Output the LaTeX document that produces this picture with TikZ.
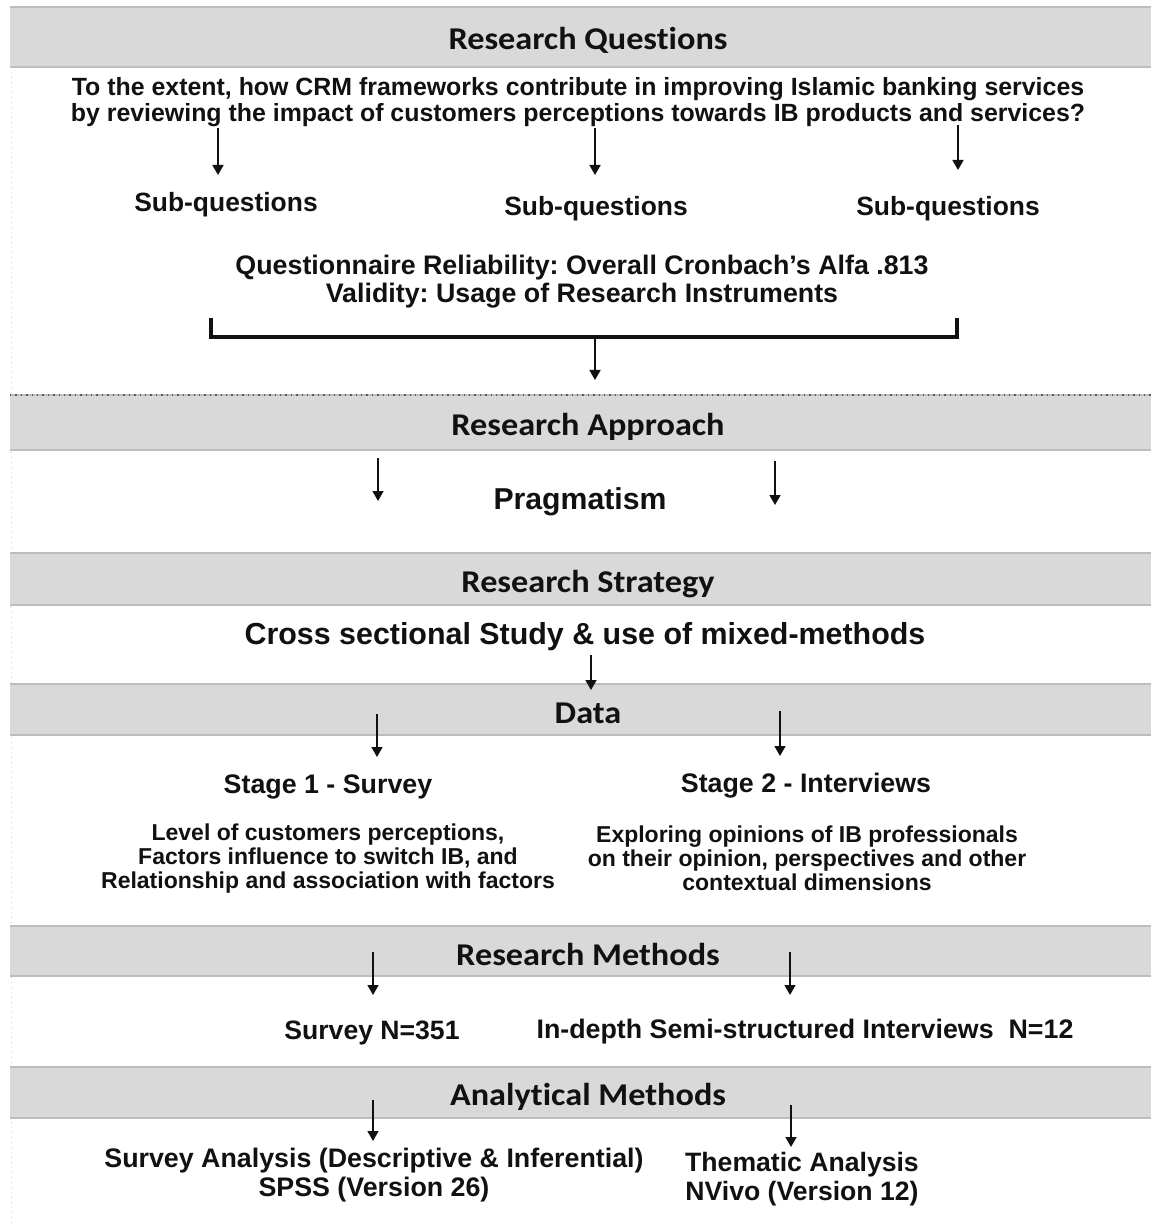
\documentclass[tikz,border=0pt]{standalone}
\usepackage{fontspec}
\setmainfont{Liberation Sans}
\newfontfamily\hdfont[FakeStretch=1.08, Ligatures=NoCommon]{Carlito}
\usetikzlibrary{arrows.meta}
\definecolor{barfill}{HTML}{D9D9D9}
\definecolor{baredge}{HTML}{BDBDBD}
\definecolor{ink}{HTML}{111111}
\frenchspacing

\begin{document}
\begin{tikzpicture}[x=0.5pt,y=-0.5pt,
  hd/.style={font=\hdfont\bfseries\fontsize{15.85}{17}\selectfont, inner sep=0, anchor=base, text=ink},
  txt/.style={font=\bfseries\fontsize{13.3}{14.2}\selectfont, align=center, inner sep=0, text=ink},
  small/.style={font=\bfseries\fontsize{11.5}{12}\selectfont, align=center, inner sep=0, text=ink},
  big/.style={font=\bfseries\fontsize{15.2}{16}\selectfont, align=center, inner sep=0, text=ink},
  arr/.style={draw=ink, line width=0.8pt, -{Triangle[width=5.5pt,length=5pt]}},
  bracket/.style={draw=ink, line width=1.7pt, line join=miter},
]
\useasboundingbox (0,0) rectangle (1151,1224);
\fill[white] (0,0) rectangle (1151,1224);

% faint dotted margin line on the left
\draw[gray!35, dotted, line width=0.5pt] (11,67) -- (11,1224);

% header bands
\foreach \ya/\yb in {7/67, 395/450, 553/605, 684/735, 926/976, 1067/1118}{
  \fill[barfill] (10,\ya) rectangle (1151,\yb);
  \draw[baredge, line width=0.6pt] (10,\ya) -- (1151,\ya);
  \draw[baredge, line width=0.8pt] (10,\yb) -- (1151,\yb);
}
\draw[gray!70!black, dotted, line width=0.7pt] (10,395) -- (1151,395);

% band titles
\node[hd] (hq) at (588,50) {Research Questions};
\node[hd] (ha) at (588,436) {Research Approach};
\node[hd] (hs) at (588,592) {Research Strategy};
\node[hd] (hdat) at (588,723) {Data};
\node[hd] (hm) at (588,965) {Research Methods};
\node[hd] (han) at (588,1105) {Analytical Methods};

% research questions block
\node[txt, font=\bfseries\fontsize{12.45}{13}\selectfont] (mq) at (578,102)
  {To the extent, how CRM frameworks contribute in improving Islamic banking services\\
   by reviewing the impact of customers perceptions towards IB products and services?};
\node[txt, font=\bfseries\fontsize{13.2}{14}\selectfont] (sq1) at (226,205) {Sub-questions};
\node[txt, font=\bfseries\fontsize{13.2}{14}\selectfont] (sq2) at (596,209) {Sub-questions};
\node[txt, font=\bfseries\fontsize{13.2}{14}\selectfont] (sq3) at (948,209) {Sub-questions};
\node[txt, font=\bfseries\fontsize{13.4}{14}\selectfont] (rel) at (582,282)
  {Questionnaire Reliability: Overall Cronbach’s Alfa .813\\
   Validity: Usage of Research Instruments};

\coordinate (a1s) at (218,128); \coordinate (a1e) at (218,175);
\coordinate (a2s) at (595,128); \coordinate (a2e) at (595,175);
\coordinate (a3s) at (958,125); \coordinate (a3e) at (958,170);
\draw[arr] (a1s) -- (a1e);
\draw[arr] (a2s) -- (a2e);
\draw[arr] (a3s) -- (a3e);

% bracket joining the sub-questions
\coordinate (bl) at (211,318); \coordinate (br) at (957,318);
\coordinate (bm) at (595,337); \coordinate (bme) at (595,380);
\draw[bracket] (bl) -- (bl |- bm) -- (br |- bm) -- (br);
\draw[arr] (bm) -- (bme);

% research approach
\node[big, font=\bfseries\fontsize{15.1}{16}\selectfont] (prag) at (580,502) {Pragmatism};
\coordinate (p1s) at (378,458); \coordinate (p1e) at (378,501);
\coordinate (p2s) at (775,461); \coordinate (p2e) at (775,505);
\draw[arr] (p1s) -- (p1e);
\draw[arr] (p2s) -- (p2e);

% research strategy
\node[big] (cross) at (585,637) {Cross sectional Study \& use of mixed-methods};
\coordinate (cs) at (591,655); \coordinate (ce) at (591,690);
\draw[arr] (cs) -- (ce);

% data
\coordinate (d1s) at (377,714); \coordinate (d1e) at (377,757);
\coordinate (d2s) at (780,711); \coordinate (d2e) at (780,756);
\draw[arr] (d1s) -- (d1e);
\draw[arr] (d2s) -- (d2e);
\node[txt, font=\bfseries\fontsize{13.4}{14}\selectfont] (st1) at (328,787) {Stage 1 - Survey};
\node[txt, font=\bfseries\fontsize{13.4}{14}\selectfont] (st2) at (806,786) {Stage 2 - Interviews};
\node[small] (ds1) at (328,859)
  {Level of customers perceptions,\\
   Factors influence to switch IB, and\\
   Relationship and association with factors};
\node[small] (ds2) at (807,858)
  {Exploring opinions of IB professionals\\
   on their opinion, perspectives and other\\
   contextual dimensions};

% research methods
\coordinate (m1s) at (373,952); \coordinate (m1e) at (373,995);
\coordinate (m2s) at (790,952); \coordinate (m2e) at (790,995);
\draw[arr] (m1s) -- (m1e);
\draw[arr] (m2s) -- (m2e);
\node[txt] (sv) at (372,1033) {Survey N=351};
\node[txt, font=\bfseries\fontsize{13.4}{14}\selectfont] (iv) at (805,1032) {In-depth Semi-structured Interviews\ \ N=12};

% analytical methods
\coordinate (n1s) at (373,1100); \coordinate (n1e) at (373,1141);
\coordinate (n2s) at (791,1105); \coordinate (n2e) at (791,1147);
\draw[arr] (n1s) -- (n1e);
\draw[arr] (n2s) -- (n2e);
\node[txt, font=\bfseries\fontsize{13.4}{14.5}\selectfont] (sa) at (374,1175)
  {Survey Analysis (Descriptive \& Inferential)\\ SPSS (Version 26)};
\node[txt, font=\bfseries\fontsize{13.3}{14.5}\selectfont] (ta) at (802,1179)
  {Thematic Analysis\\ NVivo (Version 12)};
\end{tikzpicture}
\end{document}
